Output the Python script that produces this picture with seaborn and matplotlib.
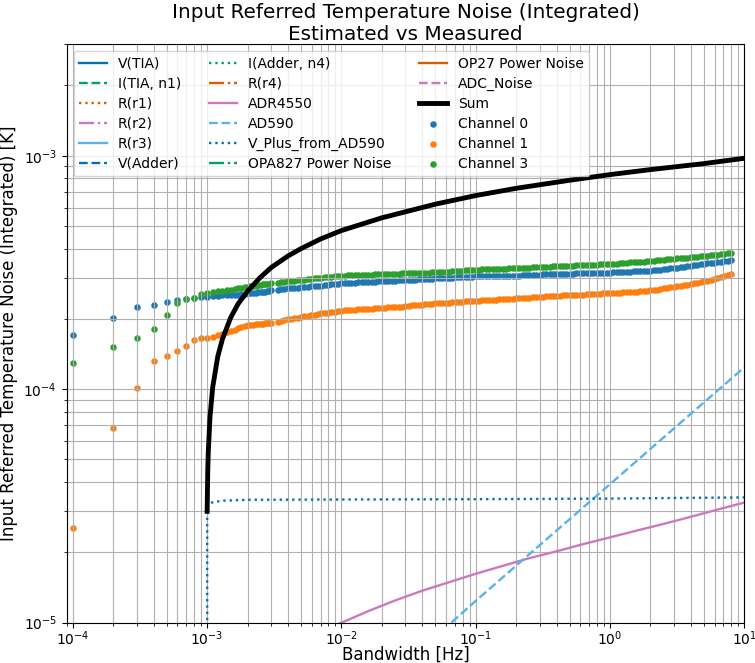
import numpy as np
import matplotlib
matplotlib.use("Agg")
import matplotlib.pyplot as plt
import seaborn as sns

# ---------------- data ----------------
# Estimated (integrated) noise components; frequencies in Hz, values in K
comp_f = [1e-3, 1e-2, 1e-1, 1.0, 10.0]
v_tia = [1e-8, 2.0e-7, 6.0e-7, 1.9e-6, 6.0e-6]
i_tia_n1 = [1e-8, 1.0e-7, 3.2e-7, 1.0e-6, 3.2e-6]
r_r1 = [1e-8, 1.5e-7, 4.7e-7, 1.5e-6, 4.7e-6]
r_r2 = [1e-8, 8.0e-8, 2.5e-7, 8.0e-7, 2.5e-6]
r_r3 = [1e-8, 6.0e-8, 1.9e-7, 6.0e-7, 1.9e-6]
v_adder = [1e-8, 1.2e-7, 3.8e-7, 1.2e-6, 3.8e-6]
i_adder_n4 = [1e-8, 5.0e-8, 1.6e-7, 5.0e-7, 1.6e-6]
r_r4 = [1e-8, 7.0e-8, 2.2e-7, 7.0e-7, 2.2e-6]
opa827_pwr = [1e-8, 4.0e-8, 1.3e-7, 4.0e-7, 1.3e-6]
op27_pwr = [1e-8, 3.0e-8, 9.5e-8, 3.0e-7, 9.5e-7]
adc_noise = [1e-8, 9.0e-8, 2.8e-7, 9.0e-7, 2.8e-6]

adr_f = [1e-3, 1.01e-3, 1.1e-3, 2e-3, 5e-3, 0.01, 0.0158, 0.0251, 0.0398, 0.0631, 0.1,
         0.158, 0.251, 0.398, 0.631, 1.0, 1.58, 2.51, 3.98, 6.31, 10.0]
adr4550 = [1e-8, 1.0e-6, 3.0e-6, 6.3e-6, 8.4e-6, 1.00e-5, 1.12e-5, 1.245e-5, 1.37e-5, 1.49e-5,
           1.62e-5, 1.75e-5, 1.89e-5, 2.02e-5, 2.17e-5, 2.32e-5, 2.48e-5, 2.65e-5, 2.84e-5,
           3.05e-5, 3.27e-5]

ad590_f = [1.01e-3, 3e-3, 1e-2, 3e-2, 0.1, 0.3, 1.0, 3.0, 10.0]
ad590 = [3.9e-7, 1.75e-6, 3.7e-6, 6.7e-6, 1.24e-5, 2.15e-5, 3.92e-5, 6.8e-5, 1.24e-4]

vplus_f = [1e-3, 1.0005e-3, 1.01e-3, 1.03e-3, 1.1e-3, 1.3e-3, 2e-3, 1e-2, 0.1, 1.0, 3.0, 10.0]
vplus = [1e-7, 3.05e-5, 3.15e-5, 3.22e-5, 3.28e-5, 3.33e-5, 3.36e-5, 3.37e-5, 3.38e-5,
         3.40e-5, 3.42e-5, 3.44e-5]

sum_f = [1.0e-3, 1.01e-3, 1.02e-3, 1.05e-3, 1.1e-3, 1.2e-3, 1.3e-3, 1.5e-3, 1.7e-3, 2e-3,
         2.5e-3, 3e-3, 4e-3, 5e-3, 7e-3, 1e-2, 2e-2, 5e-2, 0.1, 0.2, 0.5, 1.0, 2.0, 5.0, 10.0]
sum_v = [3.0e-5, 4.4e-5, 5.4e-5, 7.6e-5, 1.02e-4, 1.38e-4, 1.64e-4, 2.03e-4, 2.32e-4, 2.63e-4,
         3.02e-4, 3.32e-4, 3.72e-4, 4.0e-4, 4.4e-4, 4.78e-4, 5.42e-4, 6.2e-4, 6.75e-4, 7.25e-4,
         7.85e-4, 8.3e-4, 8.72e-4, 9.25e-4, 9.75e-4]

# Measured bandwidths: 1e-4 .. 3e-3 Hz in 1e-4 steps, then log-spaced bins up to ~8 Hz
meas_f = np.concatenate([np.arange(1, 31) * 1e-4, 10 ** np.arange(-2.475, 0.9001, 0.025)])

# Measured integrated noise (units of 1e-4 K)
ch0 = [1.71, 2.02, 2.26, 2.29, 2.36, 2.41, 2.44, 2.47, 2.48, 2.49,
       2.50, 2.51, 2.52, 2.52, 2.53, 2.54, 2.54, 2.55, 2.56, 2.57,
       2.58, 2.59, 2.59, 2.60, 2.61, 2.62, 2.62, 2.63, 2.64, 2.65,
       # log-spaced part
       2.665, 2.68, 2.69, 2.70, 2.71, 2.72, 2.725, 2.73, 2.74, 2.75,
       2.755, 2.76, 2.77, 2.78, 2.79, 2.80, 2.81, 2.82, 2.83, 2.84,
       2.845, 2.85, 2.855, 2.86, 2.865, 2.87, 2.875, 2.88, 2.885, 2.89,
       2.895, 2.90, 2.905, 2.91, 2.915, 2.92, 2.925, 2.93, 2.935, 2.94,
       2.945, 2.95, 2.955, 2.96, 2.965, 2.97, 2.975, 2.98, 2.985, 2.99,
       2.995, 3.00, 3.005, 3.01, 3.015, 3.02, 3.025, 3.03, 3.035, 3.04,
       3.04, 3.04, 3.045, 3.05, 3.05, 3.05, 3.05, 3.05, 3.055, 3.06,
       3.06, 3.06, 3.065, 3.07, 3.075, 3.08, 3.085, 3.09, 3.095, 3.10,
       3.10, 3.10, 3.105, 3.11, 3.115, 3.12, 3.12, 3.12, 3.125, 3.13,
       3.135, 3.14, 3.14, 3.14, 3.145, 3.15, 3.155, 3.16, 3.16, 3.16,
       3.165, 3.17, 3.175, 3.18, 3.185, 3.19, 3.195, 3.20, 3.205, 3.21,
       3.215, 3.22, 3.23, 3.24, 3.255, 3.27, 3.28, 3.29, 3.305, 3.32,
       3.335, 3.35, 3.365, 3.38, 3.395, 3.41, 3.425, 3.44, 3.455, 3.47,
       3.485, 3.50, 3.515, 3.53, 3.545, 3.56]
ch1 = [0.255, 0.684, 1.01, 1.32, 1.39, 1.46, 1.53, 1.63, 1.65, 1.66,
       1.67, 1.70, 1.73, 1.75, 1.78, 1.80, 1.82, 1.84, 1.86, 1.88,
       1.885, 1.89, 1.895, 1.90, 1.905, 1.91, 1.915, 1.92, 1.925, 1.93,
       # log-spaced part
       1.945, 1.96, 1.975, 1.99, 2.00, 2.01, 2.025, 2.04, 2.05, 2.06,
       2.07, 2.08, 2.095, 2.11, 2.12, 2.13, 2.14, 2.15, 2.16, 2.17,
       2.175, 2.18, 2.185, 2.19, 2.195, 2.20, 2.205, 2.21, 2.215, 2.22,
       2.225, 2.23, 2.235, 2.24, 2.245, 2.25, 2.255, 2.26, 2.27, 2.28,
       2.285, 2.29, 2.295, 2.30, 2.31, 2.32, 2.325, 2.33, 2.335, 2.34,
       2.345, 2.35, 2.355, 2.36, 2.365, 2.37, 2.375, 2.38, 2.385, 2.39,
       2.395, 2.40, 2.405, 2.41, 2.415, 2.42, 2.425, 2.43, 2.435, 2.44,
       2.445, 2.45, 2.455, 2.46, 2.465, 2.47, 2.475, 2.48, 2.485, 2.49,
       2.495, 2.50, 2.505, 2.51, 2.515, 2.52, 2.525, 2.53, 2.53, 2.53,
       2.535, 2.54, 2.545, 2.55, 2.555, 2.56, 2.565, 2.57, 2.57, 2.57,
       2.575, 2.58, 2.59, 2.60, 2.605, 2.61, 2.615, 2.62, 2.625, 2.63,
       2.64, 2.65, 2.66, 2.67, 2.685, 2.70, 2.715, 2.73, 2.745, 2.76,
       2.775, 2.79, 2.805, 2.82, 2.84, 2.86, 2.88, 2.90, 2.92, 2.94,
       2.965, 2.99, 3.015, 3.04, 3.07, 3.10]
ch3 = [1.30, 1.52, 1.65, 1.81, 2.08, 2.34, 2.44, 2.47, 2.56, 2.59,
       2.61, 2.63, 2.64, 2.66, 2.67, 2.69, 2.70, 2.72, 2.73, 2.75,
       2.76, 2.77, 2.78, 2.79, 2.80, 2.81, 2.81, 2.82, 2.83, 2.84,
       # log-spaced part
       2.86, 2.88, 2.89, 2.90, 2.91, 2.92, 2.93, 2.94, 2.95, 2.96,
       2.97, 2.98, 2.99, 3.00, 3.01, 3.02, 3.03, 3.04, 3.05, 3.06,
       3.065, 3.07, 3.075, 3.08, 3.085, 3.09, 3.09, 3.09, 3.095, 3.10,
       3.105, 3.11, 3.11, 3.11, 3.115, 3.12, 3.125, 3.13, 3.13, 3.13,
       3.135, 3.14, 3.145, 3.15, 3.155, 3.16, 3.165, 3.17, 3.175, 3.18,
       3.185, 3.19, 3.20, 3.21, 3.215, 3.22, 3.23, 3.24, 3.245, 3.25,
       3.255, 3.26, 3.26, 3.26, 3.265, 3.27, 3.275, 3.28, 3.285, 3.29,
       3.295, 3.30, 3.305, 3.31, 3.315, 3.32, 3.325, 3.33, 3.335, 3.34,
       3.345, 3.35, 3.355, 3.36, 3.365, 3.37, 3.375, 3.38, 3.385, 3.39,
       3.395, 3.40, 3.405, 3.41, 3.415, 3.42, 3.425, 3.43, 3.435, 3.44,
       3.445, 3.45, 3.46, 3.47, 3.48, 3.49, 3.495, 3.50, 3.51, 3.52,
       3.53, 3.54, 3.55, 3.56, 3.57, 3.58, 3.595, 3.61, 3.62, 3.63,
       3.64, 3.65, 3.66, 3.67, 3.685, 3.70, 3.71, 3.72, 3.735, 3.75,
       3.76, 3.77, 3.785, 3.80, 3.815, 3.83]

# ---------------- plot ----------------
cb = sns.color_palette("colorblind")
line_colors = [cb[0], cb[2], cb[3], cb[4], cb[9]]
line_styles = ["-", "--", ":", "-."]

components = [
    ("V(TIA)", comp_f, v_tia),
    ("I(TIA, n1)", comp_f, i_tia_n1),
    ("R(r1)", comp_f, r_r1),
    ("R(r2)", comp_f, r_r2),
    ("R(r3)", comp_f, r_r3),
    ("V(Adder)", comp_f, v_adder),
    ("I(Adder, n4)", comp_f, i_adder_n4),
    ("R(r4)", comp_f, r_r4),
    ("ADR4550", adr_f, adr4550),
    ("AD590", ad590_f, ad590),
    ("V_Plus_from_AD590", vplus_f, vplus),
    ("OPA827 Power Noise", comp_f, opa827_pwr),
    ("OP27 Power Noise", comp_f, op27_pwr),
    ("ADC_Noise", comp_f, adc_noise),
]

fig = plt.figure(figsize=(7.55, 6.63), dpi=100)
ax = fig.add_axes([66.7 / 755, 1 - 622.7 / 663, (744.3 - 66.7) / 755, (622.7 - 44.3) / 663])

for i, (name, fx, fy) in enumerate(components):
    sns.lineplot(x=fx, y=fy, ax=ax, color=line_colors[i % 5],
                 linestyle=line_styles[i % 4], linewidth=1.7, label=name,
                 errorbar=None, sort=False)

sns.lineplot(x=sum_f, y=sum_v, ax=ax, color="black", linewidth=3.5, label="Sum",
             errorbar=None, sort=False)

tab = sns.color_palette("tab10")
for name, vals, col in [("Channel 0", ch0, tab[0]), ("Channel 1", ch1, tab[1]),
                        ("Channel 3", ch3, tab[2])]:
    sns.scatterplot(x=meas_f, y=np.array(vals) * 1e-4, ax=ax, color=col, s=22,
                    linewidth=0, label=name)

ax.set_xscale("log")
ax.set_yscale("log")
ax.set_xlim(9.0e-5, 10)
ax.set_ylim(1e-5, 3e-3)
ax.grid(True, which="both")
ax.tick_params(axis="x", which="major", pad=1.5)
ax.set_xlabel("Bandwidth [Hz]", fontsize=12)
ax.xaxis.set_label_coords(0.5, -0.0395)
ax.set_ylabel("Input Referred Temperature Noise (Integrated) [K]", fontsize=12)
ax.set_title("Input Referred Temperature Noise (Integrated)\nEstimated vs Measured",
             fontsize=14.4, pad=3)
ax.legend(loc="upper left", ncol=3, fontsize=10, labelspacing=0.43)

fig.savefig("out.png", dpi=100)
